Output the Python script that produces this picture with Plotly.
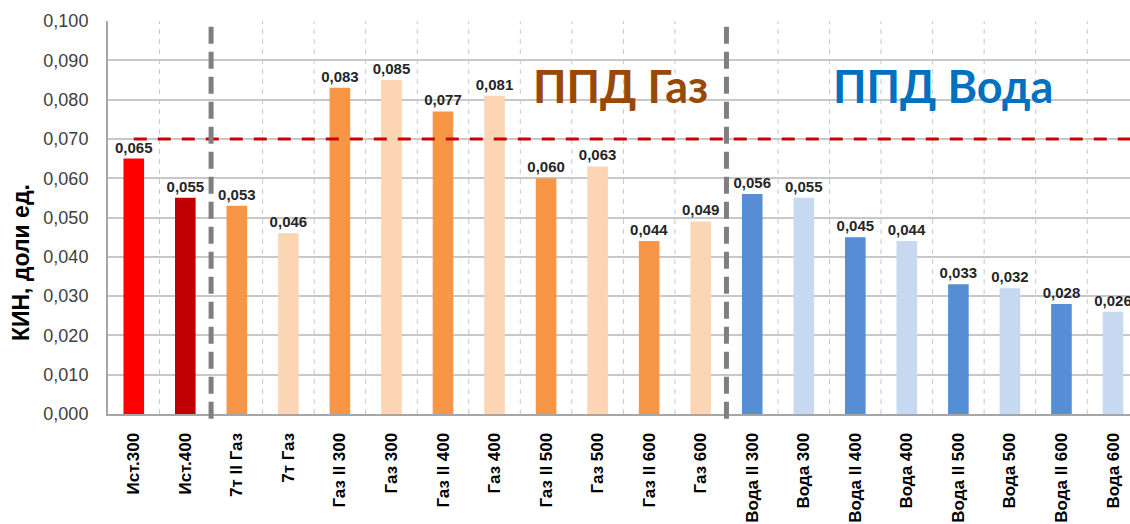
import plotly.graph_objects as go

categories = ["Ист.300", "Ист.400", "7т II Газ", "7т Газ",
              "Газ II 300", "Газ 300", "Газ II 400", "Газ 400",
              "Газ II 500", "Газ 500", "Газ II 600", "Газ 600",
              "Вода II 300", "Вода 300", "Вода II 400", "Вода 400",
              "Вода II 500", "Вода 500", "Вода II 600", "Вода 600"]
kin_values = [0.065, 0.055, 0.053, 0.046,
              0.083, 0.085, 0.077, 0.081,
              0.060, 0.063, 0.044, 0.049,
              0.056, 0.055, 0.045, 0.044,
              0.033, 0.032, 0.028, 0.026]
bar_colors = ["#FF0000", "#C00000", "#F79646", "#FCD5B4",
              "#F79646", "#FCD5B4", "#F79646", "#FCD5B4",
              "#F79646", "#FCD5B4", "#F79646", "#FCD5B4",
              "#558ED5", "#C6D9F1", "#558ED5", "#C6D9F1",
              "#558ED5", "#C6D9F1", "#558ED5", "#C6D9F1"]
target_kin = 0.070
y_ticks = [0.0, 0.01, 0.02, 0.03, 0.04, 0.05, 0.06, 0.07, 0.08, 0.09, 0.10]
group_breaks = [1.5, 11.5]

x_pos = list(range(len(categories)))
labels = [f"{v:.3f}".replace(".", ",") for v in kin_values]
x_right = 19.33

fig = go.Figure()
fig.add_trace(go.Bar(
    x=x_pos, y=kin_values, width=0.4,
    marker=dict(color=bar_colors, line=dict(width=0)),
    text=labels, textposition="outside", cliponaxis=False, constraintext="none",
    textfont=dict(family="Liberation Sans, Arial", size=15, color="#262626", weight="bold"),
    hoverinfo="skip",
))

shapes = []
# dashed vertical grid between categories
for i in range(len(categories)):
    xb = i + 0.5
    if xb in group_breaks or xb > x_right:
        continue
    shapes.append(dict(type="line", xref="x", yref="y", x0=xb, x1=xb, y0=0, y1=0.1,
                       line=dict(color="#C8C8C8", width=1, dash="5px,5px"), layer="below"))
# target level
shapes.append(dict(type="line", xref="x", yref="y", x0=0, x1=x_right, y0=target_kin, y1=target_kin,
                   line=dict(color="#D00000", width=3, dash="13px,11px"), layer="above"))
# group separators
for xb in group_breaks:
    shapes.append(dict(type="line", xref="x", yref="paper", x0=xb, x1=xb, y0=-0.012, y1=1,
                       line=dict(color="#7F7F7F", width=5, dash="17px,8px"), layer="above"))

annotations = [
    dict(x=9.44, y=0.0835, xref="x", yref="y", text="<b>ППД Газ</b>", showarrow=False,
         font=dict(family="Lato", size=45, color="#984807")),
    dict(x=15.71, y=0.0835, xref="x", yref="y", text="<b>ППД Вода</b>", showarrow=False,
         font=dict(family="Lato", size=45, color="#0070C0")),
    dict(x=-87 / 1022, y=0.384, xref="paper", yref="paper", text="<b>КИН, доли ед.</b>",
         textangle=-90, showarrow=False, xanchor="center", yanchor="middle",
         font=dict(family="Liberation Sans, Arial", size=23, color="#000000")),
]

fig.update_layout(
    width=1130, height=524,
    margin=dict(l=108, r=0, t=21, b=110),
    paper_bgcolor="white", plot_bgcolor="white",
    separators=", ",
    showlegend=False,
    shapes=shapes,
    annotations=annotations,
    barmode="group",
)

fig.update_xaxes(
    range=[-0.5, x_right], tickmode="array", tickvals=x_pos,
    ticktext=[f"<b>{c}</b>" for c in categories], tickangle=-90,
    tickfont=dict(family="Liberation Sans, Arial", size=17, color="#000000"),
    showgrid=False, zeroline=False, showline=True, linecolor="#A6A6A6", linewidth=2,
    ticks="", ticklabelstandoff=10,
)
fig.update_yaxes(
    range=[0, 0.1], tickmode="array", tickvals=y_ticks, tickformat=".3f",
    tickfont=dict(family="Liberation Sans, Arial", size=18, color="#404040"),
    showgrid=True, gridcolor="#C8C8C8", gridwidth=1.5, zeroline=False,
    showline=True, linecolor="#A6A6A6", linewidth=2, ticks="", ticklabelstandoff=14,
)

fig.write_html("out.html")
